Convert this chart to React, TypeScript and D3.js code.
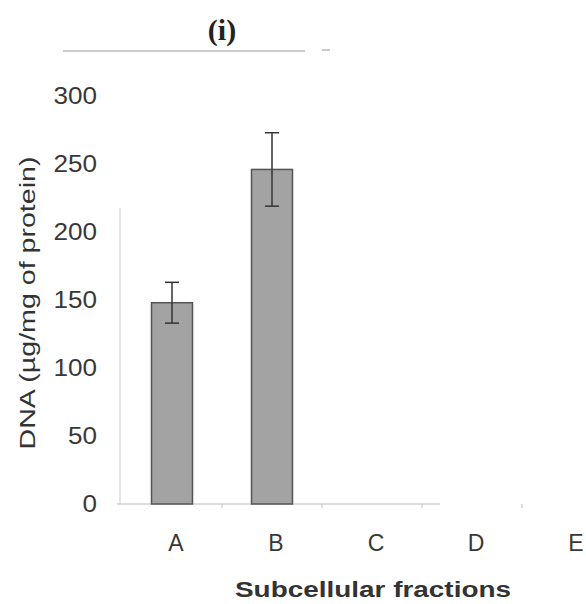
import React from "react";
import * as d3 from "d3";

const categories = ["A", "B", "C", "D", "E"];
const values: (number | null)[] = [148, 246, null, null, null];
const errors: (number | null)[] = [15, 27, null, null, null];
const yTicks = [0, 50, 100, 150, 200, 250, 300];

export default function App() {
  const W = 586, H = 604;
  const x = d3.scaleBand<string>().domain(categories).range([122, 622]).paddingInner(0.59).paddingOuter(0.295);
  const xb = d3.scaleBand<string>().domain(categories).range([122, 622]);
  const y = d3.scaleLinear().domain([0, 300]).range([504, 96]);
  const font = "'Liberation Sans', Arial, sans-serif";
  return (
    <svg width={W} height={H} style={{ position: "absolute", left: 0, top: 0, background: "#fff" }}>
      <text x={222} y={40} textAnchor="middle" fontFamily="'Liberation Serif', 'Times New Roman', serif" fontWeight="bold" fontSize={30} fill="#222">(i)</text>
      <line x1={63} x2={305} y1={51} y2={51} stroke="#999" strokeWidth={1} />
      <line x1={322} x2={330} y1={50} y2={50} stroke="#999" strokeWidth={1} />
      {/* y axis */}
      <line x1={120} x2={120} y1={208} y2={504} stroke="#ccc" strokeWidth={1} />
      <line x1={117} x2={440} y1={504} y2={504} stroke="#bbb" strokeWidth={1} />
      {categories.slice(0, 4).map((c) => (
        <line key={c} x1={xb(c)! + xb.bandwidth()} x2={xb(c)! + xb.bandwidth()} y1={504} y2={508} stroke="#bbb" />
      ))}
      {yTicks.map((t) => (
        <text key={t} x={97} y={y(t)} dy="0.36em" textAnchor="end" fontFamily={font} fontSize={23} textLength={String(t).length * 14.5} lengthAdjust="spacingAndGlyphs" fill="#383838">{t}</text>
      ))}
      {categories.map((c, i) =>
        values[i] != null ? (
          <g key={c}>
            <rect x={x(c)} y={y(values[i]!)} width={x.bandwidth()} height={504 - y(values[i]!)} fill="#a3a3a3" stroke="#555" strokeWidth={1.5} />
            <line x1={x(c)! + x.bandwidth() / 2} x2={x(c)! + x.bandwidth() / 2} y1={y(values[i]! + errors[i]!)} y2={y(values[i]! - errors[i]!)} stroke="#333" strokeWidth={1.5} />
            <line x1={x(c)! + x.bandwidth() / 2 - 7} x2={x(c)! + x.bandwidth() / 2 + 7} y1={y(values[i]! + errors[i]!)} y2={y(values[i]! + errors[i]!)} stroke="#333" strokeWidth={1.5} />
            <line x1={x(c)! + x.bandwidth() / 2 - 7} x2={x(c)! + x.bandwidth() / 2 + 7} y1={y(values[i]! - errors[i]!)} y2={y(values[i]! - errors[i]!)} stroke="#333" strokeWidth={1.5} />
          </g>
        ) : null
      )}
      {categories.map((c) => (
        <text key={c} x={xb(c)! + xb.bandwidth() / 2 + 4} y={543} dy="0.36em" textAnchor="middle" fontFamily={font} fontSize={23} fill="#383838">{c}</text>
      ))}
      <text x={373} y={597} textAnchor="middle" fontFamily={font} fontWeight="bold" fontSize={22} textLength={276} lengthAdjust="spacingAndGlyphs" fill="#333">Subcellular fractions</text>
      <text transform="translate(35,303) rotate(-90)" textAnchor="middle" fontFamily={font} fontSize={22} textLength={293} lengthAdjust="spacingAndGlyphs" fill="#333">DNA (µg/mg of protein)</text>
    </svg>
  );
}
